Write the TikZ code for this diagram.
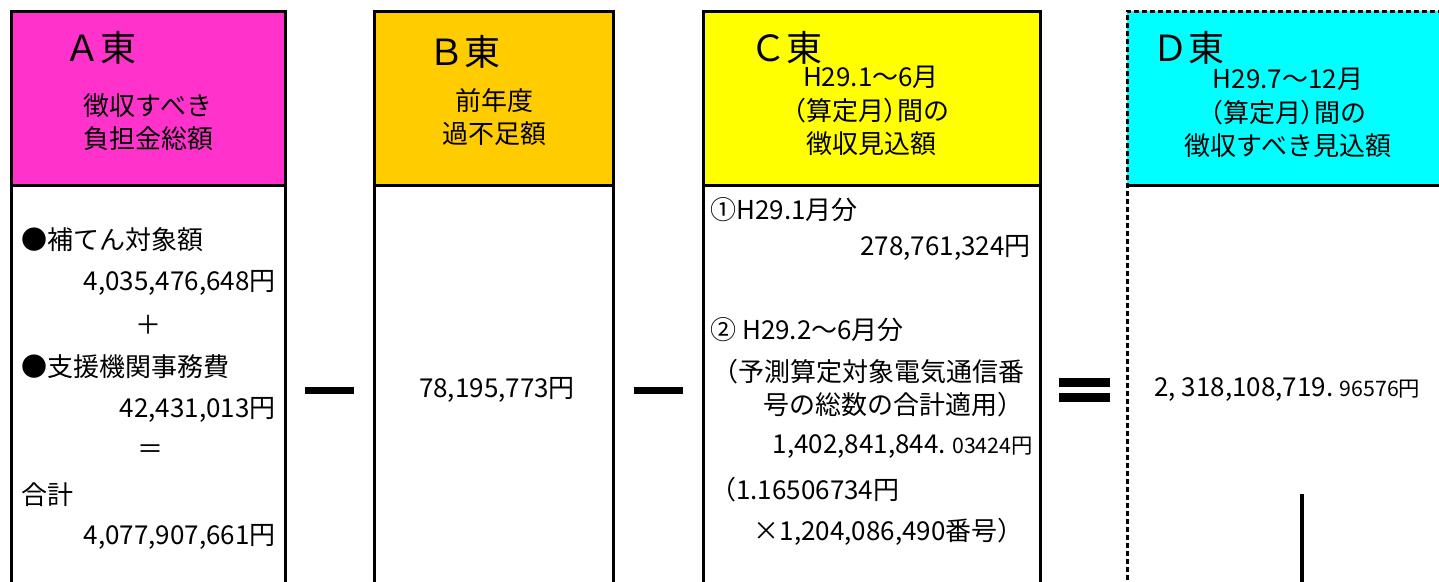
\documentclass[tikz,border=0pt]{standalone}
\usepackage{fontspec}
\setmainfont{Noto Sans CJK JP}
\usetikzlibrary{positioning}
\definecolor{pinkA}{HTML}{FF33CC}
\definecolor{orangeB}{HTML}{FFCC00}
\definecolor{yellowC}{HTML}{FFFF00}
\definecolor{cyanD}{HTML}{00FFFF}
\newcommand{\smallnum}[1]{{\fontsize{16}{18}\selectfont #1}}
\newcommand{\narrowparen}[1]{{\addfontfeatures{RawFeature=+palt}#1}}

\begin{document}
\begin{tikzpicture}[x=0.75pt, y=-0.75pt,
    frame/.style={draw, line width=2.25pt},
    dashframe/.style={draw, line width=2.25pt, dash pattern=on 4pt off 2pt},
    letter/.style={font=\fontsize{27}{30}\selectfont, anchor=west, inner sep=0pt},
    title/.style={font=\fontsize{19.5}{25}\selectfont, align=center, inner sep=0pt},
    txt/.style={font=\fontsize{19.5}{24}\selectfont, inner sep=0pt},
    sign/.style={rectangle, fill=black, inner sep=0pt, minimum width=37pt, minimum height=5.5pt},
]
    \useasboundingbox (0,0) rectangle (1439,582);
    \clip (0,0) rectangle (1439,582);

    % column frames
    \draw[frame, fill=pinkA] (11,11) rectangle (285,185);
    \draw[frame] (11,185) rectangle (285,620);
    \draw[frame, fill=orangeB] (374,11) rectangle (613,185);
    \draw[frame] (374,185) rectangle (613,620);
    \draw[frame, fill=yellowC] (703,11) rectangle (1040,185);
    \draw[frame] (703,185) rectangle (1040,620);
    \fill[cyanD] (1127,11) rectangle (1460,185);
    \draw[dashframe] (1127,620) -- (1127,11) -- (1460,11);
    \draw[frame] (1127,185) -- (1460,185);

    % headers
    \node[letter] (letterA) at (64,48) {Ａ東};
    \node[title] (titleA) at (148,122) {徴収すべき\\負担金総額};
    \node[letter] (letterB) at (428,52) {Ｂ東};
    \node[title] (titleB) at (494,117) {前年度\\過不足額};
    \node[letter] (letterC) at (750,48) {Ｃ東};
    \node[title] (titleC) at (871,111) {H29.1～6月\\\narrowparen{（算定月）}間の\\徴収見込額};
    \node[letter] (letterD) at (1152,48) {Ｄ東};
    \node[title] (titleD) at (1288,113) {H29.7～12月\\\narrowparen{（算定月）}間の\\徴収すべき見込額};

    % column A
    \node[txt, anchor=west] (hoten) at (21,240) {●補てん対象額};
    \node[txt, anchor=east] (hotenSum) at (276,283) {4,035,476,648円};
    \node[txt] (plus) at (148,325) {＋};
    \node[txt, anchor=west] (shien) at (21,367) {●支援機関事務費};
    \node[txt, anchor=east] (shienSum) at (276,410) {42,431,013円};
    \node[txt] (equal) at (150,452) {＝};
    \node[txt, anchor=west] (gokei) at (21,495) {合計};
    \node[txt, anchor=east] (gokeiSum) at (276,537) {4,077,907,661円};

    % column B
    \node[txt] (kabusoku) at (497,390) {78,195,773円};

    % column C
    \node[txt, anchor=west] (jan) at (710,210) {①H29.1月分};
    \node[txt, anchor=east] (janSum) at (1031,248) {278,761,324円};
    \node[txt, anchor=west] (febJun) at (710,330) {② H29.2～6月分};
    \node[txt, anchor=west] (yosoku) at (712,372) {（予測算定対象電気通信番};
    \node[txt, anchor=east] (tekiyo) at (1024,405) {号の総数の合計適用）};
    \node[txt, anchor=east] (febJunSum) at (1033,447) {1,402,841,844.\smallnum{ 03424円}};
    \node[txt, anchor=west] (tanka) at (710,490) {（1.16506734円};
    \node[txt, anchor=east] (bango) at (1024,532) {×1,204,086,490番号）};

    % column D
    \node[txt, anchor=west] (mikomi) at (1154,390) {2, 318,108,719.\smallnum{ 96576円}};
    \coordinate (tick) at (1302,494);
    \draw[line width=3pt] (tick) -- ++(0,120);

    % operators
    \node[sign] (minusAB) at (329.5,390.5) {};
    \node[sign] (minusBC) at (658.5,390.5) {};
    \node[sign, minimum width=38pt, minimum height=6.75pt] (equalTop) at (1084.5,382.5) {};
    \node[sign, minimum width=38pt, minimum height=6.75pt] (equalBot) at (1084.5,397.5) {};
\end{tikzpicture}
\end{document}
